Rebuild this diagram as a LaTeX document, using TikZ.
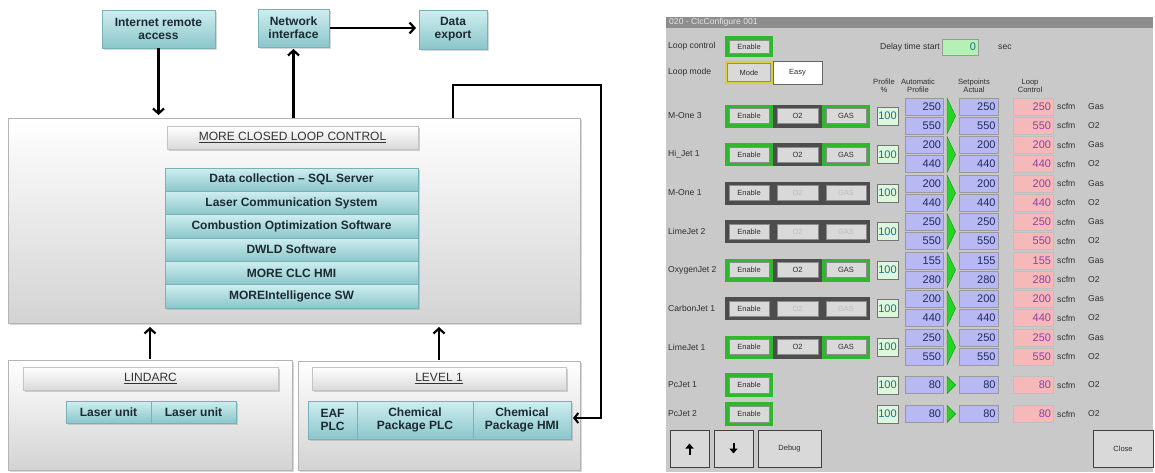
\documentclass[tikz,border=0pt]{standalone}
\usepackage{fontspec}
\setmainfont{Liberation Sans}
\usetikzlibrary{arrows.meta,shadows}
\definecolor{tealtop}{HTML}{CFEEF0}
\definecolor{tealbot}{HTML}{8AC6CA}
\definecolor{tealedge}{HTML}{78B2B6}
\definecolor{txtdark}{HTML}{1B2A33}
\definecolor{contbot}{HTML}{D3D3D3}
\definecolor{contedge}{HTML}{B4B4B4}
\definecolor{titbot}{HTML}{DADADA}
\definecolor{tittxt}{HTML}{333333}
\definecolor{pgray}{HTML}{C9C9C9}
\definecolor{tgray}{HTML}{8D8D8D}
\definecolor{ttltxt}{HTML}{E6E6E6}
\definecolor{frgreen}{HTML}{2EB82E}
\definecolor{frdark}{HTML}{4D4D4D}
\definecolor{fryel}{HTML}{D8CF3A}
\definecolor{btnfill}{HTML}{D9D9D9}
\definecolor{distxt}{HTML}{BDBDBD}
\definecolor{mint}{HTML}{DDF7DD}
\definecolor{minttxt}{HTML}{1F6B86}
\definecolor{lav}{HTML}{B8B8F2}
\definecolor{lavtxt}{HTML}{1E2A5C}
\definecolor{pinkf}{HTML}{F6B9B9}
\definecolor{pinktxt}{HTML}{8B3FA8}
\definecolor{arrgreen}{HTML}{22D622}
\definecolor{darkgreen}{HTML}{168A16}
\definecolor{delayf}{HTML}{B5F0B5}
\definecolor{ptxt}{HTML}{2E2E2E}
\newcommand\lfont{\fontsize{12}{13.2}\selectfont\bfseries}
\newcommand\tfont{\fontsize{12}{13}\selectfont}
\newcommand\pfont{\fontsize{8.6}{9.6}\selectfont}
\newcommand\hfont{\fontsize{7.6}{8.4}\selectfont}
\newcommand\bfont{\fontsize{7.5}{8.5}\selectfont}
\newcommand\nfont{\fontsize{11}{12}\selectfont}
\newcommand\pxbox[7]{\node[#6,minimum width={((#4)-(#2))*1pt},minimum height={((#5)-(#3))*1pt}] (#1) at ({((#2)+(#4))/2},{((#3)+(#5))/2}) {#7};}
\tikzset{
  base/.style={rectangle,inner sep=0pt,outer sep=0pt},
  tealbox/.style={base,top color=tealtop,bottom color=tealbot,draw=tealedge,line width=0.5pt,
    drop shadow={shadow xshift=1.5pt,shadow yshift=-1.5pt,opacity=0.3},font=\lfont,text=txtdark,align=center},
  contbox/.style={base,top color=white,bottom color=contbot,draw=contedge,line width=0.6pt,
    drop shadow={shadow xshift=2pt,shadow yshift=-2pt,opacity=0.3}},
  titlebar/.style={base,top color=white,bottom color=titbot,draw=contedge!80,line width=0.5pt,
    drop shadow={shadow xshift=1.5pt,shadow yshift=-2pt,opacity=0.35},font=\tfont,text=tittxt},
  arr/.style={line width=2.2pt,-{Straight Barb[length=5pt,width=11pt]},black},
  loopl/.style={line width=2pt,-{Straight Barb[length=4pt,width=10pt]},black},
  frame/.style={base,draw=none},
  hbtn/.style={base,fill=btnfill,draw=black!45,line width=0.5pt,font=\bfont,text=ptxt},
  pctbox/.style={base,fill=mint,draw=black!55,line width=0.5pt,font=\nfont,text=minttxt},
  valbox/.style={base,fill=lav,draw=black!40,line width=0.5pt,font=\nfont,text=lavtxt,text width=34pt,align=right},
  pinkbox/.style={base,fill=pinkf,draw=black!25,line width=0.5pt,font=\nfont,text=pinktxt,text width=36pt,align=right},
  plabel/.style={anchor=west,inner sep=0pt,font=\pfont,text=ptxt},
  hdr/.style={inner sep=0pt,font=\hfont,text=ptxt,align=center},
  pbtn/.style={base,fill=btnfill,draw=black!75,line width=1pt,font=\bfont,text=ptxt},
  trig/.style={fill=arrgreen,draw=darkgreen,line width=0.4pt},
  icon/.style={line width=2pt,-{Triangle[length=5pt,width=8pt]},black}
}
\begin{document}
\begin{tikzpicture}[x=1pt,y=-1pt]
\useasboundingbox (0,0) rectangle (1155,472);
\fill[white] (0,0) rectangle (1155,472);
% ---------------- left diagram ----------------
\pxbox{inet}{102}{10}{215}{48}{tealbox}{Internet remote\\access}
\pxbox{net}{258}{9}{329}{47}{tealbox}{Network\\interface}
\pxbox{dexp}{419}{10}{487}{49}{tealbox}{Data\\export}
\pxbox{clc}{8}{118}{580}{323}{contbox}{}
\pxbox{clct}{167}{126}{418}{149}{titlebar}{\underline{MORE CLOSED LOOP CONTROL}}
\pxbox{s1}{165}{168}{418}{191.3}{tealbox}{Data collection – SQL Server}
\pxbox{s2}{165}{191.3}{418}{214.7}{tealbox}{Laser Communication System}
\pxbox{s3}{165}{214.7}{418}{238}{tealbox}{Combustion Optimization Software}
\pxbox{s4}{165}{238}{418}{261.3}{tealbox}{DWLD Software}
\pxbox{s5}{165}{261.3}{418}{284.7}{tealbox}{MORE CLC HMI}
\pxbox{s6}{165}{284.7}{418}{308}{tealbox}{MOREIntelligence SW}
\pxbox{lin}{8}{360}{292}{470}{contbox}{}
\pxbox{lint}{23}{367}{278}{390}{titlebar}{\underline{LINDARC}}
\pxbox{lu1}{66}{401}{151}{423}{tealbox}{Laser unit}
\pxbox{lu2}{151}{401}{236}{423}{tealbox}{Laser unit}
\pxbox{lev}{298}{361}{580}{470}{contbox}{}
\pxbox{levt}{312}{367}{566}{390}{titlebar}{\underline{LEVEL 1}}
\pxbox{eaf}{308}{401}{357}{439}{tealbox}{EAF\\PLC}
\pxbox{cpp}{357}{401}{473}{439}{tealbox}{Chemical\\Package PLC}
\pxbox{cph}{473}{401}{571}{439}{tealbox}{Chemical\\Package HMI}
% connectors
\draw[arr,shorten >=3pt] (inet.south) -- (inet.south |- clc.north);
\draw[arr,shorten >=2pt] (net.south |- clc.north) -- (net.south);
\draw[arr,shorten >=3pt,shorten <=1pt] (net.east) -- (net.east -| dexp.west);
\draw[arr,shorten >=4pt,shorten <=1pt] (lin.north) -- (lin.north |- clc.south);
\draw[arr,shorten >=4pt,shorten <=1pt] (lev.north) -- (lev.north |- clc.south);
\coordinate (ltr) at (601,85);
\coordinate (lbr) at (601,418);
\draw[loopl,shorten >=2pt] (clc.north -| dexp.center) |- (ltr) -- (lbr) -- (lbr -| cph.east);
% ---------------- right panel ----------------
\pxbox{panel}{666}{17}{1153}{472}{base,fill=pgray}{}
\pxbox{tbar}{666}{17}{1153}{28}{base,fill=tgray}{}
\node[anchor=west,inner sep=0pt,font=\pfont,text=ttltxt] (ttl) at (669,22.5) {020 - ClcConfigure 001};
\node[plabel] (llc) at (668,46.5) {Loop control};
\pxbox{lcf}{725}{36}{773}{57}{frame,fill=frgreen}{}
\pxbox{lcb}{729}{40}{769}{53}{hbtn}{Enable}
\node[anchor=east,inner sep=0pt,font=\pfont,text=ptxt] (dlt) at (940,47) {Delay time start};
\pxbox{dly}{942}{39}{978}{55}{base,fill=delayf,draw=black!40,line width=0.5pt,font=\nfont,text=minttxt,text width=32pt,align=right}{0}
\node[plabel] (sec) at (998,47) {sec};
\node[plabel] (llm) at (668,72.5) {Loop mode};
\pxbox{mdf}{725}{61}{773}{84}{frame,fill=fryel}{}
\pxbox{mdb}{727.5}{63.5}{770.5}{81.5}{hbtn}{Mode}
\pxbox{easy}{773}{61}{822}{84}{base,fill=white,draw=black!60,line width=0.6pt,font=\bfont,text=ptxt}{Easy}
\node[hdr] (hp) at (884,86) {Profile\\\%};
\node[hdr] (ha) at (918,86) {Automatic\\Profile};
\node[hdr] (hs) at (974,86) {Setpoints\\Actual};
\node[hdr] (hl) at (1030,86) {Loop\\Control};
\foreach \i/\lab/\va/\vb/\st in {0/M-One 3/250/550/1,1/Hi\_Jet 1/200/440/1,2/M-One 1/200/440/0,3/LimeJet 2/250/550/0,4/OxygenJet 2/155/280/1,5/CarbonJet 1/200/440/0,6/LimeJet 1/250/550/1}{
  \pgfmathsetmacro\c{116+38.5*\i}
  \ifnum\st=1 \def\fcol{frgreen}\def\otxt{ptxt}\else\def\fcol{frdark}\def\otxt{distxt}\fi
  \node[plabel] (lab\i) at (668,\c) {\lab};
  \pxbox{fe\i}{725}{\c-11.5}{773}{\c+11.5}{frame,fill=\fcol}{}
  \pxbox{fo\i}{773}{\c-11.5}{822}{\c+11.5}{frame,fill=frdark}{}
  \pxbox{fg\i}{822}{\c-11.5}{870}{\c+11.5}{frame,fill=\fcol}{}
  \pxbox{be\i}{729}{\c-7.5}{769}{\c+7.5}{hbtn}{Enable}
  \pxbox{bo\i}{777}{\c-7.5}{818}{\c+7.5}{hbtn,text=\otxt}{O2}
  \pxbox{bg\i}{826}{\c-7.5}{866}{\c+7.5}{hbtn,text=\otxt}{GAS}
  \pxbox{pc\i}{877}{\c-9}{898}{\c+9}{pctbox}{100}
  \pxbox{au\i}{905}{\c-18}{943}{\c-1}{valbox}{\va}
  \pxbox{al\i}{905}{\c+1}{943}{\c+18}{valbox}{\vb}
  \fill[trig] (947,\c-18) -- (955.5,\c) -- (947,\c+18) -- cycle;
  \pxbox{su\i}{959}{\c-18}{998}{\c-1}{valbox}{\va}
  \pxbox{sl\i}{959}{\c+1}{998}{\c+18}{valbox}{\vb}
  \pxbox{lu\i}{1013}{\c-18}{1053}{\c-1}{pinkbox}{\va}
  \pxbox{ll\i}{1013}{\c+1}{1053}{\c+18}{pinkbox}{\vb}
  \node[plabel] (uu\i) at (1057,\c-9.5) {scfm};
  \node[plabel] (ul\i) at (1057,\c+9.5) {scfm};
  \node[plabel] (gu\i) at (1088,\c-9.5) {Gas};
  \node[plabel] (gl\i) at (1088,\c+9.5) {O2};
}
\foreach \i/\lab/\c in {7/PcJet 1/385,8/PcJet 2/414}{
  \node[plabel] (lab\i) at (668,\c) {\lab};
  \pxbox{fe\i}{725}{\c-12}{773}{\c+12}{frame,fill=frgreen}{}
  \pxbox{be\i}{729}{\c-8}{769}{\c+8}{hbtn}{Enable}
  \pxbox{pc\i}{877}{\c-9}{898}{\c+9}{pctbox}{100}
  \pxbox{au\i}{905}{\c-8.5}{943}{\c+8.5}{valbox}{80}
  \fill[trig] (947,\c-8.5) -- (955.5,\c) -- (947,\c+8.5) -- cycle;
  \pxbox{su\i}{959}{\c-8.5}{998}{\c+8.5}{valbox}{80}
  \pxbox{lu\i}{1013}{\c-8.5}{1053}{\c+8.5}{pinkbox}{80}
  \node[plabel] (uu\i) at (1057,\c) {scfm};
  \node[plabel] (gu\i) at (1088,\c) {O2};
}
\pxbox{bup}{670}{430}{709}{467}{pbtn}{}
\pxbox{bdn}{714}{430}{753}{467}{pbtn}{}
\pxbox{bdbg}{758}{430}{821}{467}{pbtn}{Debug}
\pxbox{bcl}{1093}{430}{1153}{467}{pbtn}{Close}
\draw[icon] ([yshift=-6pt]bup.center) -- ([yshift=5pt]bup.center);
\draw[icon] ([yshift=6pt]bdn.center) -- ([yshift=-5pt]bdn.center);
\end{tikzpicture}
\end{document}
